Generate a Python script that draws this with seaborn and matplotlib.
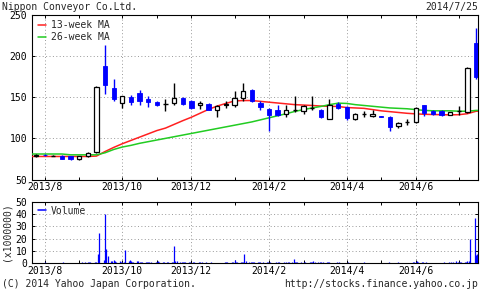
import numpy as np
import pandas as pd
import matplotlib
matplotlib.use("Agg")
import matplotlib.pyplot as plt
from matplotlib.lines import Line2D
import seaborn as sns

# ---------------- data ----------------
weeks = pd.date_range("2013-07-29", periods=52, freq="W-MON")

open_ = [78, 79.5, 79, 79, 78, 75, 78, 83, 188, 161,
         143, 150, 155, 148, 144.5, 142, 143, 149, 145, 140,
         142, 135, 140, 140, 149, 159, 143, 136, 134, 130,
         134, 133, 137, 134, 123, 142, 138, 123, 130, 127,
         127, 126, 115.5, 120, 120, 140, 133, 133, 129, 133,
         132, 216]
high = [81, 81, 79.5, 79.5, 78, 79, 83, 164, 213, 172,
        152, 153, 159, 152, 145, 148, 167, 150, 146.5, 146,
        143, 141, 145, 158, 167, 160, 145, 137, 140, 140,
        152, 140, 152, 135.5, 148, 144, 139, 131, 133, 134,
        127.5, 127.5, 119.5, 124, 138, 141, 134, 134, 132.5, 139,
        187, 234]
low = [77, 78, 78, 74.5, 74, 74, 77, 82, 154, 145,
       137, 141, 141, 138, 139, 133, 140, 141, 136, 136,
       134, 126, 137, 138, 145, 144, 135, 109, 127, 126.5,
       132, 130, 134.5, 125, 123, 136, 122.5, 122, 126, 126.5,
       126, 109.5, 112.5, 116.5, 119, 127, 129, 127.5, 128.5, 128.5,
       131, 172]
close = [80, 79.2, 79, 75.5, 75, 78, 82, 163, 165, 148,
         151, 144, 145, 144, 140, 142, 149, 142, 137, 143,
         135, 139, 142, 149, 158, 146, 138, 128, 128, 134,
         134, 139, 137, 126, 140, 137, 125, 130, 130, 130,
         126.3, 114, 119, 120, 137, 131, 129.5, 129, 132, 133,
         186, 175]

ma13 = [78, 78, 78, 78, 78, 78, 78, 78.5, 84, 89,
        93.5, 97.5, 101.5, 105.5, 109.5, 112.5, 117, 121.5, 125.7, 130.5,
        135.3, 139.3, 142.5, 145.5, 146, 146, 145, 144, 143, 142,
        141, 140.5, 140, 139.3, 139, 138.8, 137.5, 137, 136.5, 135,
        133.5, 132.5, 131.5, 130.5, 129.8, 129.3, 129, 128.8, 128.6, 128.8,
        130, 133]
ma26 = [81, 81, 81, 81, 80, 80, 80, 80, 82.5, 86.5,
        89.5, 91.5, 94, 96, 98, 100, 102, 104, 106, 108,
        110, 112, 114, 116, 118, 120, 122.5, 125, 127.5, 130,
        132.8, 135, 137, 138.8, 141, 142.8, 142.5, 141, 140, 139,
        138, 137, 136.5, 136, 135, 134, 133.5, 133.5, 133.5, 133,
        133, 134]

# daily volume (x1,000,000), Mon..Fri of each week
volume = [
    [0.3, 0.4, 0.3, 0.3, 0.4], [0.4, 0.3, 0.5, 0.3, 0.3], [0.3, 0.3, 0.4, 0.3, 0.3],
    [0.4, 0.3, 0.3, 0.5, 0.3], [0.3, 0.3, 0.3, 0.4, 0.3], [0.3, 0.4, 0.3, 0.3, 0.5],
    [0.5, 0.4, 0.6, 0.5, 0.8], [0.0, 0.8, 1.2, 7.0, 25.0], [0.0, 2.5, 40.5, 11.3, 5.4],
    [2.0, 1.5, 2.2, 2.0, 1.2], [1.5, 1.2, 0.8, 1.0, 10.8], [1.5, 2.5, 1.8, 1.0, 1.2],
    [2.0, 1.5, 1.0, 0.8, 1.2], [0.8, 1.0, 0.6, 0.5, 0.7], [0.0, 0.6, 0.8, 1.5, 0.5],
    [0.5, 0.6, 0.4, 1.0, 0.5], [0.8, 1.2, 13.8, 1.5, 2.0], [0.8, 0.6, 0.5, 0.7, 0.5],
    [0.6, 0.5, 0.4, 0.5, 0.6], [0.4, 0.5, 0.6, 0.4, 0.5], [0.5, 0.4, 0.4, 0.3, 0.5],
    [0.3, 0.4, 0.3, 0.2, 0.2], [0.2, 0.5, 0.6, 0.5, 0.4], [0.6, 0.8, 2.5, 1.0, 0.7],
    [0.8, 1.0, 1.2, 7.3, 1.5], [0.8, 0.6, 0.5, 0.6, 0.5], [0.5, 0.6, 0.5, 0.4, 0.5],
    [0.6, 0.5, 0.4, 0.5, 0.4], [0.4, 0.5, 0.6, 0.5, 0.4], [0.5, 0.4, 0.5, 0.6, 0.8],
    [1.0, 3.2, 1.0, 0.6, 0.5], [0.5, 0.4, 0.6, 0.5, 0.4], [0.8, 1.0, 0.8, 2.0, 1.0],
    [0.6, 0.8, 0.5, 0.4, 0.5], [0.5, 0.6, 0.5, 0.4, 0.4], [0.4, 0.5, 0.4, 0.5, 0.3],
    [0.4, 0.3, 0.4, 0.5, 0.4], [0.3, 0.4, 0.3, 0.4, 0.3], [0.4, 0.3, 0.5, 0.4, 0.3],
    [0.3, 0.4, 0.3, 0.3, 0.4], [0.0, 0.0, 0.0, 0.4, 0.3], [0.4, 0.5, 0.4, 0.3, 0.4],
    [0.3, 0.4, 0.5, 0.4, 0.3], [0.4, 0.3, 0.4, 0.3, 0.4], [0.5, 0.6, 0.8, 2.0, 0.8],
    [0.6, 0.5, 0.4, 0.5, 0.4], [0.4, 0.3, 0.4, 0.3, 0.4], [0.3, 0.4, 0.3, 0.4, 0.5],
    [0.4, 0.5, 0.4, 0.6, 0.5], [2.0, 0.6, 0.5, 0.8, 0.6], [0.8, 1.0, 2.0, 1.5, 19.7],
    [0.0, 36.5, 6.5, 7.0, 3.0],
]

title = "Nippon Conveyor Co.Ltd."
date_text = "2014/7/25"
copyright_text = "(C) 2014 Yahoo Japan Corporation."
url_text = "http://stocks.finance.yahoo.co.jp"

# ---------------- style ----------------
sns.set_style("ticks")
plt.rcParams["font.family"] = ["DejaVu Sans Mono"]
plt.rcParams["font.size"] = 7

BLUE = "#0000ff"
RED = "#ff2020"
GREEN = "#22cc22"
GRID = "#999999"

fig = plt.figure(figsize=(4.8, 2.91), dpi=100)
ax = fig.add_axes([32 / 480, 1 - 179.5 / 291, 446 / 480, 164.5 / 291])
axv = fig.add_axes([32 / 480, 1 - 263 / 291, 446 / 480, 61 / 291])

x = np.arange(len(weeks))
o = np.array(open_); c = np.array(close); h = np.array(high); l = np.array(low)

# month ticks: first week that starts in each month
month_first = [i for i in range(len(weeks)) if i == 0 or weeks[i].month != weeks[i - 1].month]
month_first = [i for i in month_first if weeks[i].day <= 7]
major = [i for i in month_first if weeks[i].month % 2 == 0]
minor = [i for i in month_first if weeks[i].month % 2 == 1 and i > 0]
major_labels = [f"{weeks[i].year}/{weeks[i].month}" for i in major]

# moving averages
ma_df = pd.DataFrame({"x": x, "13-week MA": ma13, "26-week MA": ma26})
xl = (-0.47, 51.22)
ext = pd.DataFrame({"x": [xl[0], 51.22], "13-week MA": [ma13[0], ma13[-1]],
                    "26-week MA": [ma26[0], ma26[-1]]})
ma_full = pd.concat([ext.iloc[[0]], ma_df, ext.iloc[[1]]]).reset_index(drop=True)
sns.lineplot(data=ma_full, x="x", y="13-week MA", ax=ax, color=RED, lw=1.1, label="13-week MA", zorder=3)
sns.lineplot(data=ma_full, x="x", y="26-week MA", ax=ax, color=GREEN, lw=1.1, label="26-week MA", zorder=3)

# candles
up = c > o
down = c < o
doji = c == o
wick_col = np.where(down, BLUE, "black")
ax.vlines(x, l, h, colors=list(wick_col), lw=1.0, zorder=4)
bw = 0.5
ax.bar(x[up], (c - o)[up], bottom=o[up], width=bw, color="white", edgecolor="black", lw=0.9, zorder=5)
ax.bar(x[down], (o - c)[down], bottom=c[down], width=bw, color=BLUE, edgecolor=BLUE, lw=0.6, zorder=5)
ax.hlines(o[doji], x[doji] - bw / 2, x[doji] + bw / 2, colors="black", lw=1.0, zorder=5)

# volume (daily bars)
vx, vv = [], []
for w, days in enumerate(volume):
    for d, v in enumerate(days):
        if v > 0:
            vx.append(w + (d - 2) / 7)
            vv.append(v)
axv.vlines(vx, 0, vv, colors=BLUE, lw=0.9, zorder=3)

# axes formatting
for a, ylim, yt in [(ax, (50, 250), [50, 100, 150, 200, 250]),
                    (axv, (0, 50), [0, 10, 20, 30, 40, 50])]:
    a.set_xlim(*xl)
    a.set_ylim(*ylim)
    a.set_yticks(yt)
    a.set_xticks(major)
    a.set_xticklabels(major_labels)
    a.set_xticks(minor, minor=True)
    a.set_xlabel("")
    a.set_ylabel("")
    a.grid(True, which="major", color=GRID, lw=0.7, linestyle=(0, (1, 2.5)))
    a.set_axisbelow(True)
    for s in a.spines.values():
        s.set_visible(True)
        s.set_color("black")
        s.set_linewidth(0.8)
    a.tick_params(which="both", direction="in", top=True, right=True,
                  length=2.5, width=0.7, labelsize=7, colors="black")
    a.tick_params(axis="y", pad=3.5)
    a.tick_params(axis="x", pad=2)

ax.legend(loc="upper left", bbox_to_anchor=(0.014, 0.967), frameon=False,
          handlelength=0.8, handletextpad=0.5, labelspacing=0.2,
          borderpad=0, borderaxespad=0, fontsize=7)
axv.legend(handles=[Line2D([], [], color=BLUE, lw=1.1)], labels=["Volume"],
           loc="upper left", bbox_to_anchor=(0.014, 0.94), frameon=False,
           handlelength=0.8, handletextpad=0.5, borderpad=0, borderaxespad=0, fontsize=7)

fig.text(2 / 480, 1 - 7 / 291, title, ha="left", va="center", fontsize=7)
fig.text(478 / 480, 1 - 7 / 291, date_text, ha="right", va="center", fontsize=7)
fig.text(2 / 480, 1 - 284 / 291, copyright_text, ha="left", va="center", fontsize=7)
fig.text(478 / 480, 1 - 284 / 291, url_text, ha="right", va="center", fontsize=7)
fig.text(7 / 480, 1 - 232 / 291, "(x1000000)", ha="center", va="center", rotation=90, fontsize=7)

fig.savefig("out.png", dpi=100, facecolor="white")
